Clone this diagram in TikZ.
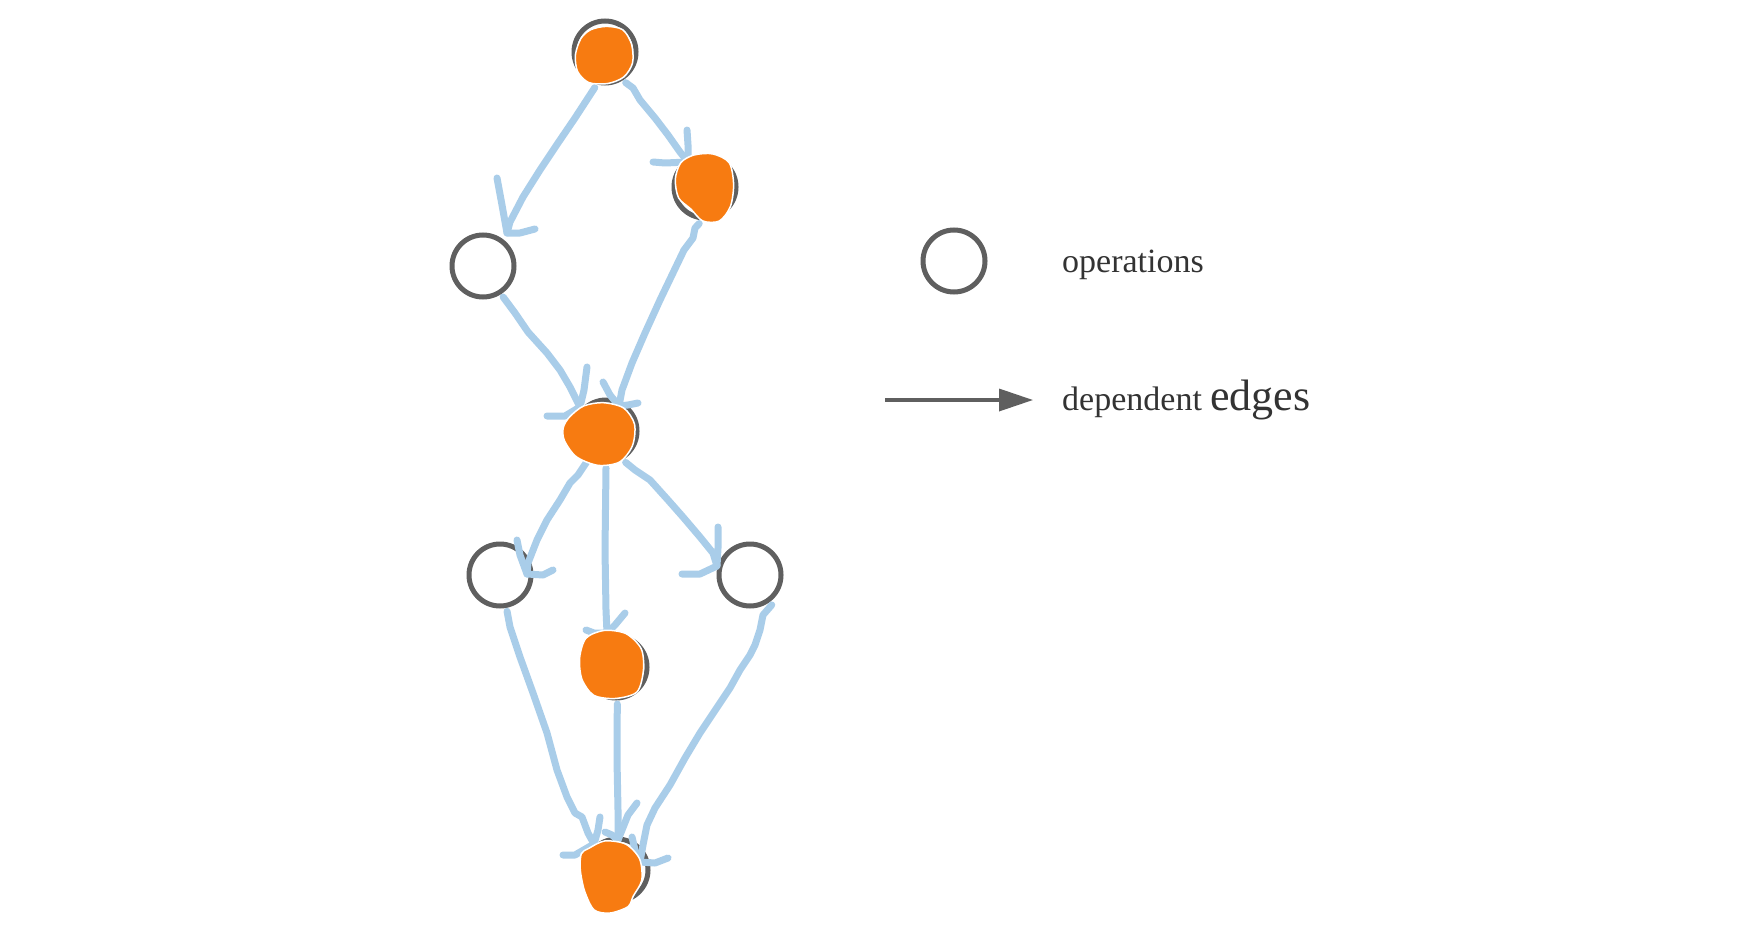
\documentclass[tikz,border=0pt]{standalone}
\usepackage{fontspec}
\setmainfont{Liberation Serif}
\usetikzlibrary{arrows.meta}
\definecolor{opgray}{HTML}{5F5F5F}
\definecolor{edgeblue}{HTML}{A9CDE9}
\definecolor{blobor}{HTML}{F77B11}
\definecolor{txt}{HTML}{333333}
\tikzset{
  op/.style={circle,draw=opgray,line width=5pt,inner sep=0pt,minimum size=62pt,outer sep=6pt},
  edge/.style={draw=edgeblue,line width=7pt,line cap=round,line join=round},
  blob/.style={fill=blobor,draw=white,line width=1.5pt},
  lbl/.style={text=txt,anchor=base west,inner sep=0pt}
}
\begin{document}
\begin{tikzpicture}[x=1pt,y=-1pt]
\useasboundingbox (0,0) rectangle (1755,934);
\fill[white] (0,0) rectangle (1755,934);
% operation nodes
\node[op] (n1) at (605,52) {};
\node[op] (n2) at (483,266) {};
\node[op] (n3) at (705,187) {};
\node[op] (n4) at (606,431) {};
\node[op] (n5) at (500,575) {};
\node[op] (n6) at (616,667) {};
\node[op] (n7) at (750,575) {};
\node[op] (n8) at (617,870) {};
% arrow tips
\coordinate (ta) at (507,233);
\coordinate (tb) at (688,162);
\coordinate (tc) at (580,407);
\coordinate (td) at (619,406);
\coordinate (te) at (527,574);
\coordinate (tf) at (607,633);
\coordinate (tg) at (717,566);
\coordinate (th) at (594,844);
\coordinate (ti) at (618,840);
\coordinate (tj) at (640,862);
% edges
\draw[edge] (n1.254) -- (575,118) -- (558,143) -- (540,170) -- (523,197) -- (510,222) -- (ta);
\draw[edge] (497,178) -- (502,205) -- (ta) -- (520,233) -- (535,229);
\draw[edge] (n1.304) -- (633,88) -- (640,100) -- (655,118) -- (668,135) -- (680,152) -- (tb);
\draw[edge] (687,130) -- (688,145) -- (tb) -- (665,163) -- (653,162);
\draw[edge] (n2.303) -- (515,313) -- (528,332) -- (547,353) -- (560,370) -- (570,387) -- (tc);
\draw[edge] (587,367) -- (584,390) -- (tc) -- (565,416) -- (547,416);
\draw[edge] (n3.261) -- (695,228) -- (693,238) -- (684,250) -- (672,275) -- (660,300) -- (645,333) -- (632,363) -- (622,390) -- (td);
\draw[edge] (603,382) -- (610,395) -- (td) -- (628,405) -- (638,403);
\draw[edge] (n4.238) -- (578,475) -- (570,483) -- (560,500) -- (547,520) -- (537,540) -- (528,563) -- (te);
\draw[edge] (517,540) -- (520,555) -- (te) -- (543,575) -- (553,570);
\draw[edge] (n4.270) -- (605,550) -- (606,610) -- (tf);
\draw[edge] (586,630) -- (594,633) -- (tf) -- (615,625) -- (625,613);
\draw[edge] (n4.302) -- (635,470) -- (650,480) -- (668,500) -- (683,517) -- (700,537) -- (713,553) -- (tg);
\draw[edge] (718,527) -- (718,548) -- (tg) -- (700,574) -- (682,574);
\draw[edge] (n5.281) -- (510,627) -- (520,657) -- (533,693) -- (547,733) -- (557,770) -- (567,797) -- (575,813) -- (582,817) -- (588,833) -- (th);
\draw[edge] (600,817) -- (598,830) -- (th) -- (575,855) -- (563,855);
\draw[edge] (n6.272) -- (617,760) -- (618,810) -- (ti);
\draw[edge] (637,803) -- (628,815) -- (ti) -- (612,835) -- (605,832);
\draw[edge] (n7.306) -- (763,615) -- (760,630) -- (755,645) -- (750,655) -- (740,670) -- (730,688) -- (712,715) -- (700,733) -- (685,758) -- (670,785) -- (655,808) -- (647,825) -- (643,845) -- (tj);
\draw[edge] (632,837) -- (635,850) -- (tj) -- (655,863) -- (668,858);
% orange blobs
\draw[blob,scale around={1.1:(604,55)}] plot[smooth cycle] coordinates {(583,40) (592,32) (606,29) (621,32) (629,45) (630,62) (622,75) (607,81) (590,80) (580,70) (578,55)};
\draw[blob,scale around={1.1:(705,188)}] plot[smooth cycle] coordinates {(683,165) (695,158) (712,157) (727,165) (731,185) (728,205) (718,218) (703,218) (692,207) (681,197) (678,180)};
\draw[blob,scale around={1.08:(600,434)}] plot[smooth cycle] coordinates {(572,418) (585,408) (603,405) (622,410) (632,425) (630,445) (618,460) (598,463) (578,455) (567,440) (566,428)};
\draw[blob,scale around={1.08:(611,665)}] plot[smooth cycle] coordinates {(588,640) (605,633) (625,636) (639,650) (641,670) (635,690) (615,696) (595,693) (584,678) (582,658)};
\draw[blob,scale around={1.06:(611,877)}] plot[smooth cycle] coordinates {(590,850) (605,843) (625,846) (638,860) (640,880) (632,895) (627,905) (610,911) (595,908) (586,890) (582,870) (583,855)};
% legend
\node[op] (lop) at (954,261) {};
\node[lbl,font=\fontsize{34}{40}\selectfont] (lopt) at (1062,272) {operations};
\coordinate (la) at (885,400);
\coordinate (lb) at (1033,400);
\draw[draw=opgray,line width=3.5pt,-{Triangle[length=34pt,width=22pt]}] (la) -- (lb);
\node[lbl,font=\fontsize{34}{40}\selectfont] (ledg) at (1062,410) {dependent \fontsize{44}{50}\selectfont edges};
\end{tikzpicture}
\end{document}
